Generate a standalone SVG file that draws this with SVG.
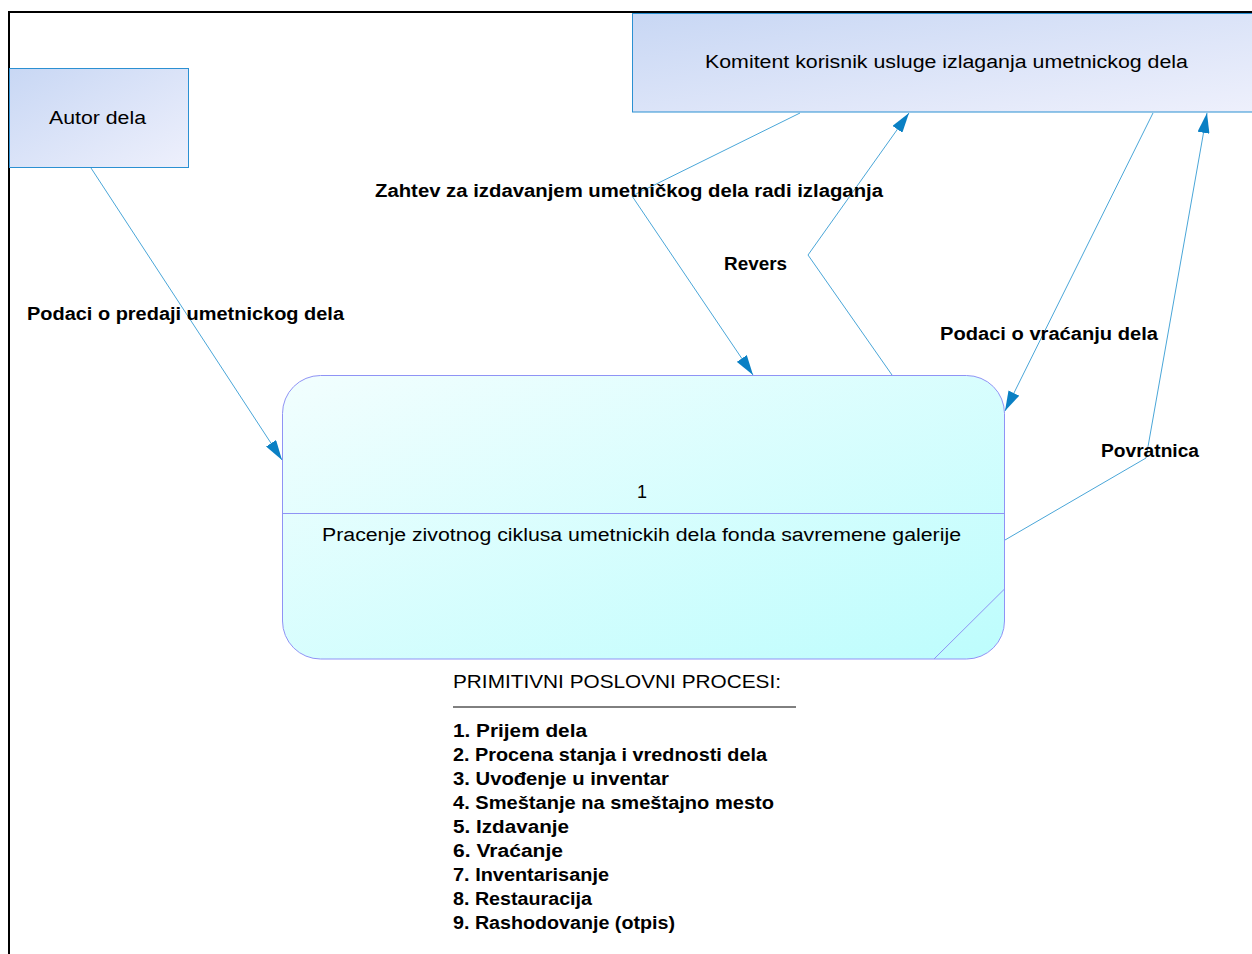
<svg xmlns="http://www.w3.org/2000/svg" width="1252" height="954" viewBox="0 0 1252 954">
<defs>
<linearGradient id="gEnt" x1="0" y1="0" x2="1" y2="1">
<stop offset="0" stop-color="#c8d7f4"/>
<stop offset="1" stop-color="#eef0fc"/>
</linearGradient>
<linearGradient id="gProc" x1="0" y1="0" x2="1" y2="1">
<stop offset="0" stop-color="#f2fefe"/>
<stop offset="1" stop-color="#bdfdfd"/>
</linearGradient>
<marker id="arr" markerUnits="userSpaceOnUse" viewBox="0 0 20 12" refX="20" refY="6" markerWidth="20" markerHeight="12" orient="auto">
<path d="M0,0 L20,6 L0,12 z" fill="#0a80c4"/>
</marker>
<style>
.ent{fill:url(#gEnt);stroke:#2b90d2;stroke-width:1}
.proc{fill:url(#gProc);stroke:#8f93f5;stroke-width:1}
.pl{fill:none;stroke:#8f93f5;stroke-width:1}
.con{fill:none;stroke:#4aa6d8;stroke-width:1}
.arrow{marker-end:url(#arr)}
text{font-family:"Liberation Sans",Arial,sans-serif;fill:#000}
.t{font-size:18px}
.lb{font-size:18px;font-weight:bold}
.li{font-size:18px;font-weight:bold}
</style>
</defs>
<rect width="1252" height="954" fill="#fff"/>
<g id="frame">
<path d="M9,954 V12 H1252" fill="none" stroke="#000" stroke-width="2"/>
</g>
<g id="autor">
<rect class="ent" x="9.5" y="68.5" width="179" height="99"/>
<text class="t" x="49" y="124" textLength="97" lengthAdjust="spacingAndGlyphs">Autor dela</text>
</g>
<g id="komitent">
<rect class="ent" x="632.5" y="13.5" width="625" height="98.5"/>
<text class="t" x="705" y="68" textLength="483" lengthAdjust="spacingAndGlyphs">Komitent korisnik usluge izlaganja umetnickog dela</text>
</g>
<g id="proces">
<rect class="proc" x="282.5" y="375.5" width="722" height="283.5" rx="38" ry="38"/>
<line class="pl" x1="282.5" y1="513.5" x2="1004.5" y2="513.5"/>
<line class="pl" x1="934" y1="659" x2="1004.5" y2="589"/>
<text class="t" x="642" y="498" text-anchor="middle">1</text>
<text class="t" x="322" y="541" textLength="639" lengthAdjust="spacingAndGlyphs">Pracenje zivotnog ciklusa umetnickih dela fonda savremene galerije</text>
</g>
<g id="connectors">
<polyline class="con arrow" points="91,168 282,460"/>
<polyline class="con arrow" points="800,113 632,196 753,375"/>
<polyline class="con arrow" points="892,375 808,255 909,113"/>
<polyline class="con arrow" points="1153,113 1005,411"/>
<polyline class="con arrow" points="1005,540 1146,458 1207,113"/>
<text class="lb" x="27" y="320" textLength="317" lengthAdjust="spacingAndGlyphs">Podaci o predaji umetnickog dela</text>
<text class="lb" x="375" y="197" textLength="508" lengthAdjust="spacingAndGlyphs">Zahtev za izdavanjem umetničkog dela radi izlaganja</text>
<text class="lb" x="724" y="270" textLength="63" lengthAdjust="spacingAndGlyphs">Revers</text>
<text class="lb" x="940" y="340" textLength="218" lengthAdjust="spacingAndGlyphs">Podaci o vraćanju dela</text>
<text class="lb" x="1101" y="457" textLength="98" lengthAdjust="spacingAndGlyphs">Povratnica</text>
</g>
<g id="lista">
<text class="t" x="453" y="688" textLength="328" lengthAdjust="spacingAndGlyphs">PRIMITIVNI POSLOVNI PROCESI:</text>
<line x1="453" y1="707" x2="796" y2="707" stroke="#000" stroke-width="1"/>
<text class="li" x="453" y="737" textLength="134" lengthAdjust="spacingAndGlyphs">1. Prijem dela</text>
<text class="li" x="453" y="761" textLength="314" lengthAdjust="spacingAndGlyphs">2. Procena stanja i vrednosti dela</text>
<text class="li" x="453" y="785" textLength="216" lengthAdjust="spacingAndGlyphs">3. Uvođenje u inventar</text>
<text class="li" x="453" y="809" textLength="321" lengthAdjust="spacingAndGlyphs">4. Smeštanje na smeštajno mesto</text>
<text class="li" x="453" y="833" textLength="116" lengthAdjust="spacingAndGlyphs">5. Izdavanje</text>
<text class="li" x="453" y="857" textLength="110" lengthAdjust="spacingAndGlyphs">6. Vraćanje</text>
<text class="li" x="453" y="881" textLength="156" lengthAdjust="spacingAndGlyphs">7. Inventarisanje</text>
<text class="li" x="453" y="905" textLength="139" lengthAdjust="spacingAndGlyphs">8. Restauracija</text>
<text class="li" x="453" y="929" textLength="222" lengthAdjust="spacingAndGlyphs">9. Rashodovanje (otpis)</text>
</g>
</svg>
